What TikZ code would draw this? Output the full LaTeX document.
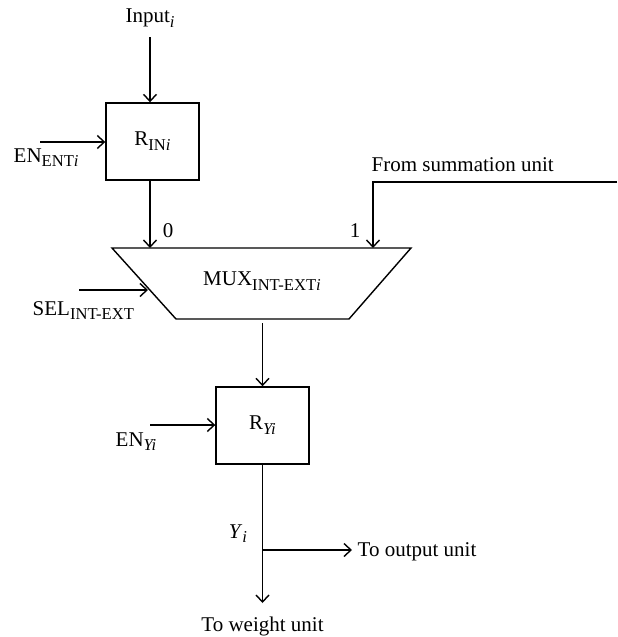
\documentclass[tikz,border=0pt]{standalone}
\usepackage{fontspec}
\setmainfont{Liberation Serif}
\usetikzlibrary{positioning,arrows.meta}

\newcommand{\lowsub}[1]{\raisebox{-0.5ex}{\fontsize{8.3}{9}\selectfont #1}}

\begin{document}
\begin{tikzpicture}[x=0.5pt,y=-0.5pt,line width=0.7pt,
        >={Straight Barb[length=3.5pt,width=6.5pt]},
        font=\fontsize{10.5}{12}\selectfont,
        reg/.style={draw,minimum width=46.5pt,minimum height=38.5pt,inner sep=0pt},
        lbl/.style={inner sep=0pt}]
    \useasboundingbox (0,0) rectangle (617,637);

    % Input register
    \node[lbl,anchor=base] (inp) at (150,23) {Input\lowsub{\textit{i}}};
    \node[reg] (rin) at (152.5,141.5) {R\lowsub{IN\textit{i}}};
    \node[lbl,anchor=base west] (enent) at (13,162) {EN\lowsub{ENT\textit{i}}};
    \coordinate (inS) at (150,37);
    \coordinate (enS) at (40,142);

    \draw[->] (inS) -- (inS |- rin.north);
    \draw[->] (enS) -- (enS -| rin.west);

    % Multiplexer
    \coordinate (mtl) at (112,248);
    \coordinate (mtr) at (411,248);
    \coordinate (mbr) at (349,319);
    \coordinate (mbl) at (176,319);
    \draw (mtl) -- (mtr) -- (mbr) -- (mbl) -- cycle;
    \node[lbl] (mux) at (262,281) {MUX\lowsub{INT-EXT\textit{i}}};
    \coordinate (mux0) at (150,248);
    \coordinate (mux1) at (373,248);
    \coordinate (sumS) at (617,182);
    \coordinate (selS) at (79,290);
    \coordinate (selE) at (148,290);
    \node[lbl] (zero) at (168,231) {0};
    \node[lbl] (one) at (355,231) {1};
    \node[lbl,anchor=base west] (sum) at (371,171) {From summation unit};
    \node[lbl,anchor=base west] (sel) at (32,315) {SEL\lowsub{INT-EXT}};

    \draw[->] (rin.south -| mux0) -- (mux0);
    \draw[->] (sumS) -- (sumS -| mux1) -- (mux1);
    \draw[->] (selS) -- (selE);

    % Output register
    \node[reg] (ry) at (262.5,425.5) {R\lowsub{\textit{Yi}}};
    \node[lbl,anchor=base west] (eny) at (115,446) {EN\lowsub{\textit{Yi}}};
    \coordinate (muxS) at (262.5,323);
    \coordinate (enyS) at (150,425);
    \draw[->] (muxS) -- (ry.north);
    \draw[->] (enyS) -- (enyS -| ry.west);

    % Outputs
    \coordinate (br) at (262.5,550);
    \coordinate (wS) at (262.5,603);
    \coordinate (oE) at (352,550);
    \node[lbl,anchor=base] (yi) at (238,538) {\textit{Y}\lowsub{\textit{i}}};
    \node[lbl,anchor=base west] (outu) at (357,556) {To output unit};
    \node[lbl,anchor=base] (wu) at (262.5,631) {To weight unit};
    \draw[->] (ry.south) -- (wS);
    \draw[->] (br) -- (oE);
\end{tikzpicture}
\end{document}
